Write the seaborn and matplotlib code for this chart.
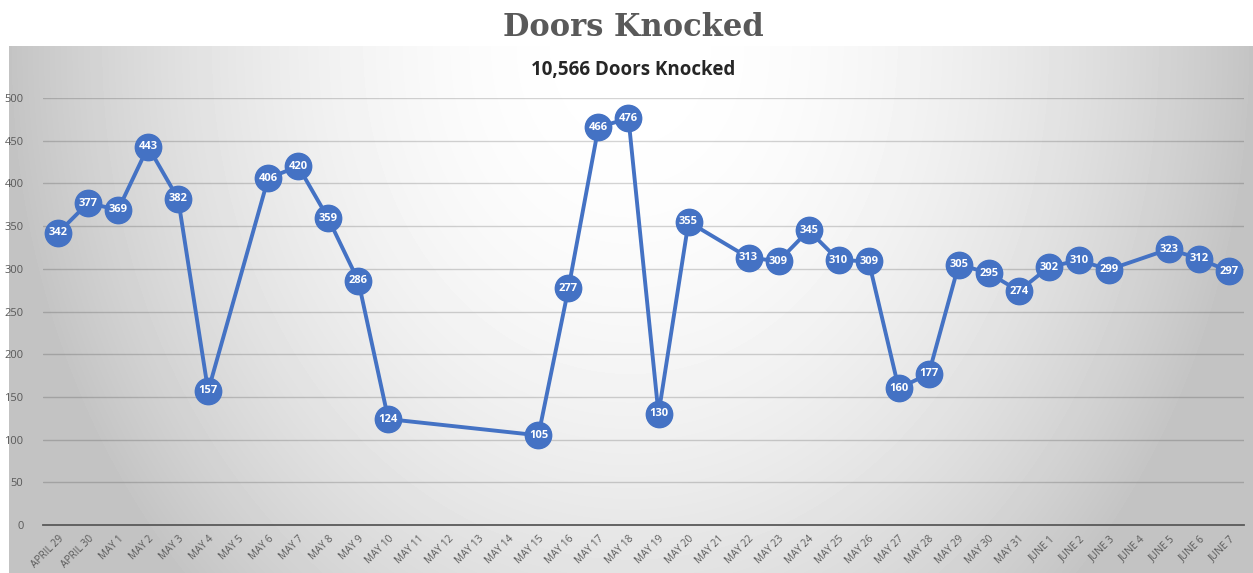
import numpy as np
import pandas as pd
import seaborn as sns
import matplotlib.pyplot as plt

# categories on the x axis (one per day, some days have no value)
days = (["April 29", "April 30"]
        + [f"May {d}" for d in range(1, 32)]
        + [f"June {d}" for d in range(1, 8)])

# doors knocked per day, None = no canvassing that day
doors = [342, 377, 369, 443, 382, 157, None, 406, 420, 359, 286, 124,
         None, None, None, None, 105, 277, 466, 476, 130, 355, None,
         313, 309, 345, 310, 309, 160, 177, 305, 295, 274,
         302, 310, 299, None, 323, 312, 297]

title = "Doors Knocked"
subtitle = "10,566 Doors Knocked"
y_ticks = list(range(0, 501, 50))

df = pd.DataFrame({"day": days, "doors": doors})
df["pos"] = np.arange(len(df))
df = df.dropna(subset=["doors"])

W, H = 1253, 573
fig = plt.figure(figsize=(W / 100, H / 100), dpi=100)
fig.patch.set_facecolor("white")

# radial-ish grey gradient behind the chart panel
px0, py0 = 9, 46
bg = fig.add_axes([px0 / W, 0, 1 - px0 / W, 1 - py0 / H])
xx, yy = np.meshgrid(np.arange(px0, W), np.arange(py0, H))
d2 = ((xx - 630) / 620.0) ** 2 + ((yy - 46) / 760.0) ** 2
shade = np.clip(1.0 - (59 / 255.0) * d2, 196 / 255.0, 1.0)
bg.imshow(shade, cmap="gray", vmin=0, vmax=1, aspect="auto",
          interpolation="bilinear")
bg.axis("off")

sns.set_style("white")
plt.rcParams["font.family"] = ["Open Sans", "DejaVu Sans"]

ax = fig.add_axes([43 / W, (H - 525) / H, (1244 - 43) / W, (525 - 98) / H])
ax.patch.set_alpha(0)

sns.lineplot(data=df, x="pos", y="doors", ax=ax, color="#4472C4",
             linewidth=2.8, marker="o", markersize=19,
             markeredgecolor="#4472C4", markeredgewidth=1, zorder=3)

for _, r in df.iterrows():
    ax.text(r["pos"], r["doors"], f"{int(r['doors'])}", ha="center",
            va="center", color="white", fontsize=8, fontweight="bold",
            zorder=4)

ax.set_xlim(-0.5, len(days) - 0.5)
ax.set_ylim(0, 500)
ax.set_yticks(y_ticks)
ax.set_yticklabels([str(v) for v in y_ticks], fontsize=8, color="#595959")
ax.set_xticks(np.arange(len(days)))
ax.set_xticklabels([d.upper() for d in days], rotation=45, ha="right",
                   rotation_mode="anchor", fontsize=7.3, color="#595959")
ax.set_xticks(np.arange(len(days) + 1) - 0.5, minor=True)
ax.tick_params(axis="x", which="major", length=0, pad=6)
ax.tick_params(axis="x", which="minor", length=5, width=1.2,
               color="#595959", direction="out")
ax.tick_params(axis="y", length=0, pad=14)

for v in y_ticks[1:]:
    ax.axhline(v, color="black", alpha=0.17, linewidth=1, zorder=1)

for s in ["top", "right", "left"]:
    ax.spines[s].set_visible(False)
ax.spines["bottom"].set_color("#595959")
ax.spines["bottom"].set_linewidth(1.3)
ax.set_xlabel("")
ax.set_ylabel("")

fig.text(633 / W, 1 - 28 / H, title, ha="center", va="center",
         fontsize=22, fontweight="bold", color="#595959",
         family=["DejaVu Serif"])
fig.text(633 / W, 1 - 70 / H, subtitle, ha="center", va="center",
         fontsize=13.5, fontweight="bold", color="#262626")

fig.savefig("out.png", dpi=100)
